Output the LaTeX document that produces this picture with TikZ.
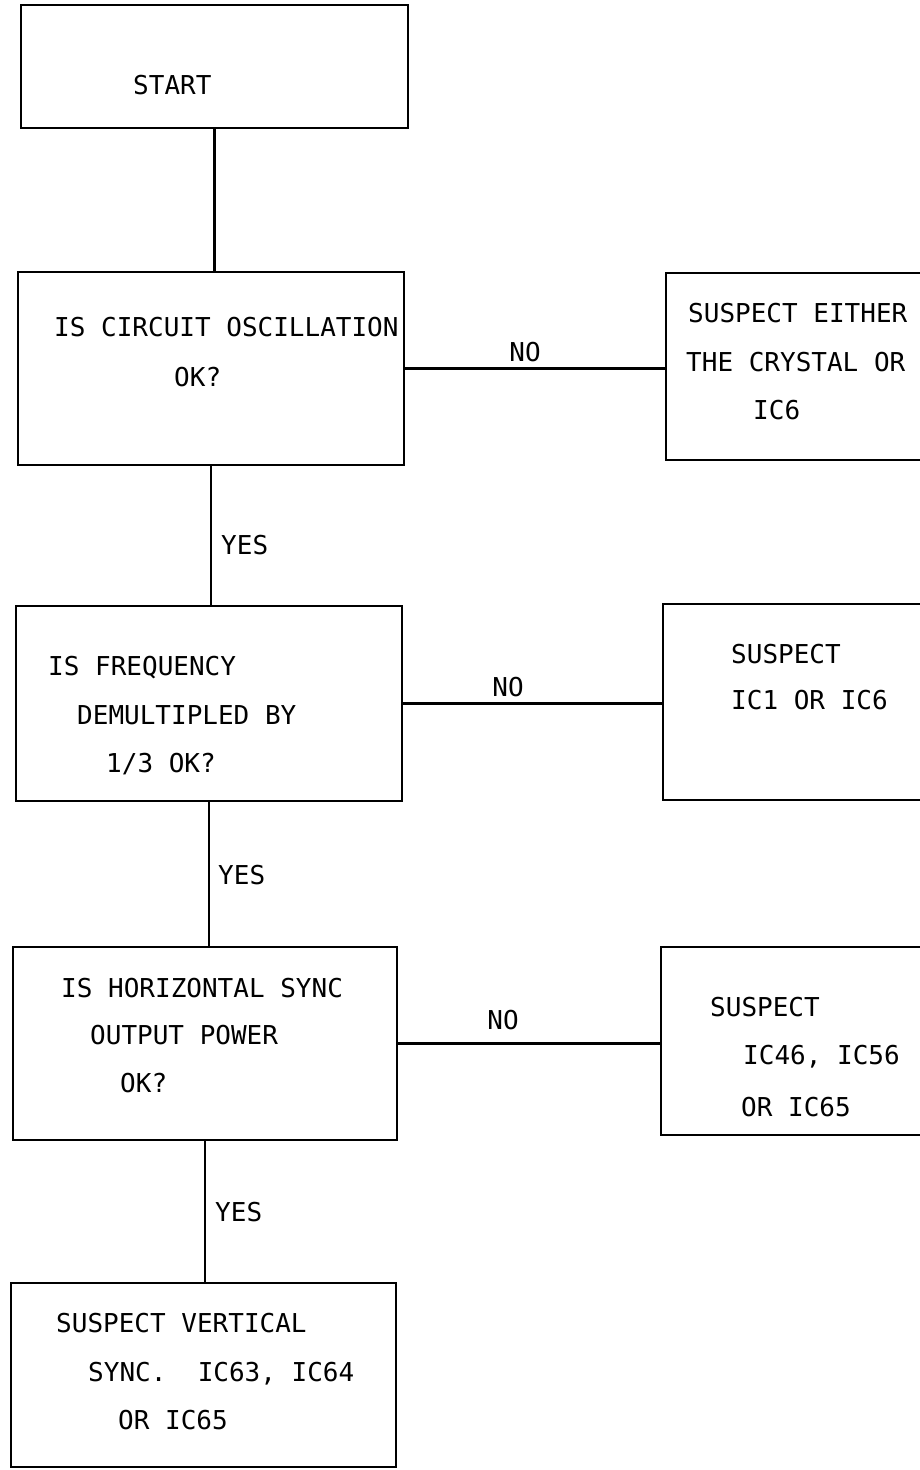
\documentclass[tikz,border=0pt]{standalone}
\usepackage{fontspec}
\newfontfamily\typer{DejaVu Sans Mono}
\tikzset{
  box/.style={draw, line width=2.2pt, inner sep=0pt},
  txt/.style={anchor=base west, inner sep=0pt, font=\typer\fontsize{26}{30}\selectfont},
}
\begin{document}
\frenchspacing
\begin{tikzpicture}[x=1pt,y=-1pt]
  \useasboundingbox (0,0) rectangle (919,1470);
  % boxes
  \node[box, minimum width=387pt, minimum height=123pt] (start) at (214.5,66.5) {};
  \node[box, minimum width=386pt, minimum height=193pt] (q1) at (211,368.5) {};
  \node[box, minimum width=274pt, minimum height=187pt] (s1) at (803,366.5) {};
  \node[box, minimum width=386pt, minimum height=195pt] (q2) at (209,703.5) {};
  \node[box, minimum width=277pt, minimum height=196pt] (s2) at (801.5,702) {};
  \node[box, minimum width=384pt, minimum height=193pt] (q3) at (205,1043.5) {};
  \node[box, minimum width=279pt, minimum height=188pt] (s3) at (800.5,1041) {};
  \node[box, minimum width=385pt, minimum height=184pt] (s4) at (203.5,1375) {};
  % texts
  \node[txt] (start-t) at (133,94.5) {START};
  \node[txt] (q1-a) at (54,336.5) {IS CIRCUIT OSCILLATION};
  \node[txt] (q1-b) at (174,386.5) {OK?};
  \node[txt] (s1-a) at (688,322.5) {SUSPECT EITHER};
  \node[txt] (s1-b) at (686,371.5) {THE CRYSTAL OR};
  \node[txt] (s1-c) at (753,419.5) {IC6};
  \node[txt] (q2-a) at (48,675.5) {IS FREQUENCY};
  \node[txt] (q2-b) at (77,724.5) {DEMULTIPLED BY};
  \node[txt] (q2-c) at (106,772.5) {1/3 OK?};
  \node[txt] (s2-a) at (731,663.5) {SUSPECT};
  \node[txt] (s2-b) at (731,709.5) {IC1 OR IC6};
  \node[txt] (q3-a) at (61,997.5) {IS HORIZONTAL SYNC};
  \node[txt] (q3-b) at (90,1044.5) {OUTPUT POWER};
  \node[txt] (q3-c) at (120,1092.5) {OK?};
  \node[txt] (s3-a) at (710,1016.5) {SUSPECT};
  \node[txt] (s3-b) at (743,1064.5) {IC46, IC56};
  \node[txt] (s3-c) at (741,1116.5) {OR IC65};
  \node[txt] (s4-a) at (56,1332.5) {SUSPECT VERTICAL};
  \node[txt] (s4-b) at (88,1381.5) {SYNC.\ \ IC63, IC64};
  \node[txt] (s4-c) at (118,1429.5) {OR IC65};
  % labels
  \node[txt] (yes1) at (221,554.5) {YES};
  \node[txt] (yes2) at (218,884.5) {YES};
  \node[txt] (yes3) at (215,1221.5) {YES};
  \node[txt, anchor=base] (no1) at (525,361.5) {NO};
  \node[txt, anchor=base] (no2) at (508,696.5) {NO};
  \node[txt, anchor=base] (no3) at (503,1029.5) {NO};
  % lines
  \begin{scope}[line width=2.2pt]
    \draw (start.south) -- (start.south |- q1.north);
    \draw (q1.south) -- (q1.south |- q2.north);
    \draw (q2.south) -- (q2.south |- q3.north);
    \draw (q3.south) -- (q3.south |- s4.north);
    \draw (q1.east) -- (q1.east -| s1.west);
    \draw (q2.east) -- (q2.east -| s2.west);
    \draw (q3.east) -- (q3.east -| s3.west);
  \end{scope}
\end{tikzpicture}
\end{document}
